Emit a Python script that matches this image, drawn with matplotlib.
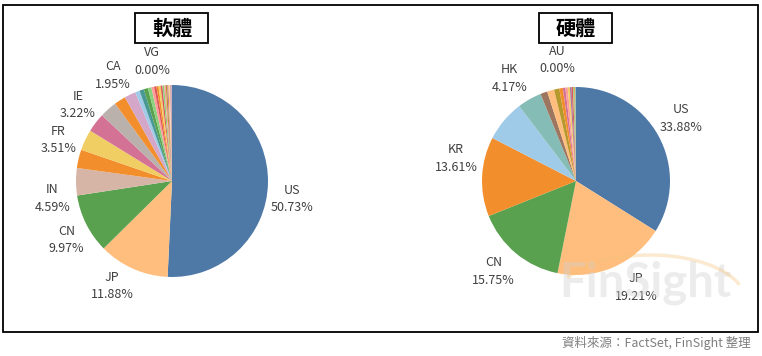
import matplotlib
matplotlib.use("Agg")
import numpy as np
import matplotlib.pyplot as plt
from matplotlib.patches import Rectangle, Arc

plt.rcParams["font.family"] = ["Noto Sans CJK TC", "DejaVu Sans"]

# 軟體 (software) shares by country, clockwise from 12 o'clock
sw_names = ["US", "JP", "CN", "IN", "", "FR", "IE", "", "CA", "", "", "", "", "",
            "", "", "", "", "", "", "", "", "", "", "", "", "", "VG"]
sw_values = [50.73, 11.88, 9.97, 4.59, 3.10, 3.51, 3.22, 2.90, 1.95, 1.90, 0.75,
             0.75, 0.70, 0.60, 0.45, 0.40, 0.35, 0.35, 0.30, 0.30, 0.25, 0.25,
             0.20, 0.20, 0.15, 0.15, 0.10, 0.00]
sw_colors = ["#4E79A7", "#FFBE7D", "#59A14F", "#D7B5A6", "#F28E2B", "#F1CE63",
             "#D37295", "#BAB0AC", "#F28E2B", "#D4A6C8", "#A0CBE8", "#499894",
             "#59A14F", "#8CD17D", "#FF9D9A", "#E15759", "#F28E2B", "#F1CE63",
             "#E15759", "#8CD17D", "#FF9D9A", "#B6992D", "#D37295", "#F1CE63",
             "#FABFD2", "#9D7660", "#D4A6C8", "#BAB0AC"]

# 硬體 (hardware) shares by country
hw_names = ["US", "JP", "CN", "KR", "", "HK", "", "", "", "", "", "", "", "",
            "", "", "", "", "AU"]
hw_values = [33.88, 19.21, 15.75, 13.61, 7.10, 4.17, 1.20, 1.20, 0.90, 0.60,
             0.45, 0.40, 0.35, 0.30, 0.25, 0.20, 0.15, 0.15, 0.00]
hw_colors = ["#4E79A7", "#FFBE7D", "#59A14F", "#F28E2B", "#A0CBE8", "#86BCB6",
             "#9D7660", "#FFBE7D", "#B6992D", "#F28E2B", "#D37295", "#FF9D9A",
             "#F1CE63", "#B07AA1", "#E15759", "#8CD17D", "#F28E2B", "#86BCB6",
             "#B6992D"]

# label placement tweaks (clockwise shift in % of the circle) like Excel's best fit
sw_nudge = {"US": 2.0, "JP": 1.6, "CN": -0.7, "IN": -2.2, "FR": -1.5,
            "IE": 0.4, "CA": 1.0, "VG": -2.6}
hw_nudge = {"US": -0.5, "JP": -1.7, "CN": 0.7, "KR": 2.2, "HK": -0.9,
            "AU": -2.4}

W, H = 762, 356
fig = plt.figure(figsize=(W / 100, H / 100), dpi=100)


def px_rect(x0, y0, x1, y1):
    # pixel box (top-left origin) -> figure fraction rect
    return [x0 / W, 1 - y1 / H, (x1 - x0) / W, (y1 - y0) / H]


def draw_pie(cx, cy, r, names, values, colors, nudge, dist, title):
    ax = fig.add_axes(px_rect(cx - r, cy - r, cx + r, cy + r))
    wedges, _ = ax.pie(values, colors=colors, startangle=90,
                       counterclock=False, wedgeprops=dict(linewidth=0))
    for w, n, v in zip(wedges, names, values):
        if not n:
            continue
        ang = np.deg2rad((w.theta1 + w.theta2) / 2 - nudge.get(n, 0) * 3.6)
        ax.text(dist * np.cos(ang), dist * np.sin(ang), f"{n}\n{v:.2f}%",
                ha="center", va="center", fontsize=9, color="#404040",
                linespacing=1.45)
    ax.set_xlim(-1, 1)
    ax.set_ylim(-1, 1)
    ax.set_aspect("equal")

    # title in a box
    bx0, bx1 = cx - 37, cx + 36
    fig.add_artist(Rectangle((bx0 / W, 1 - 43 / H), (bx1 - bx0) / W, 30 / H,
                             transform=fig.transFigure, fill=False,
                             edgecolor="black", linewidth=1.3))
    fig.text(cx / W, 1 - 28 / H, title, ha="center", va="center",
             fontsize=14.5, fontweight="bold", color="black")
    return ax


draw_pie(172, 181, 96, sw_names, sw_values, sw_colors, sw_nudge, 1.26, "軟體")
draw_pie(576, 181, 94, hw_names, hw_values, hw_colors, hw_nudge, 1.30, "硬體")

# outer frame
fig.add_artist(Rectangle((3 / W, 1 - 332 / H), 755 / W, 327 / H,
                         transform=fig.transFigure, fill=False,
                         edgecolor="black", linewidth=1.3))

# watermark
fig.text(645 / W, 1 - 283 / H, "FinSight", ha="center", va="center",
         fontsize=34, fontweight="bold", color="#d0d0d0", alpha=0.4,
         family=["Lato", "DejaVu Sans"], zorder=0.5)
fig.add_artist(Arc((650 / W, 1 - 300 / H), 190 / W, 90 / H, theta1=20,
                   theta2=150, transform=fig.transFigure, color="#f5c27a",
                   alpha=0.35, linewidth=2.5, zorder=10))

fig.text(751 / W, 1 - 343 / H, "資料來源：FactSet, FinSight 整理", ha="right",
         va="center", fontsize=9, color="#7f7f7f")

fig.savefig("out.png", dpi=100)
